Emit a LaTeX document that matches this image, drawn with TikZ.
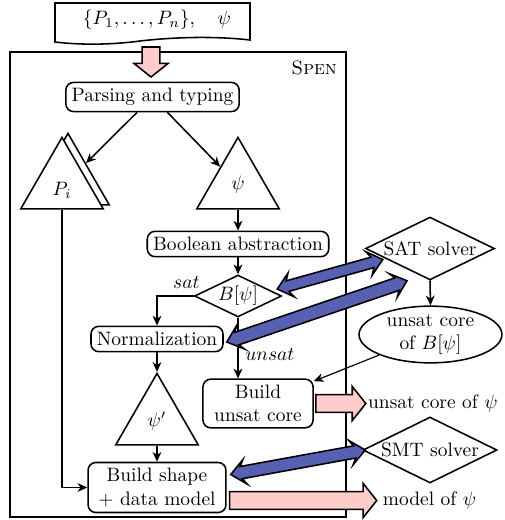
\documentclass[tikz,border=0pt]{standalone}
\usetikzlibrary{shapes.geometric,calc,arrows.meta}
\definecolor{pinkf}{RGB}{255,204,204}
\definecolor{bluef}{RGB}{88,96,178}
\def\pS{4.6pt}\def\pH{8.8pt}\def\pL{7pt}
\def\bH{6.4pt}\def\bL{7.5pt}\def\bLi{5.5pt}
\newcommand\pinkblock[2]{%
  \filldraw[pinkarrow] ($(#1)!\pS!90:(#2)$) -- ($(#2)!\pL!(#1)!\pS!-90:(#1)$) -- ($(#2)!\pL!(#1)!\pH!-90:(#1)$) -- (#2)
   -- ($(#2)!\pL!(#1)!\pH!90:(#1)$) -- ($(#2)!\pL!(#1)!\pS!90:(#1)$) -- ($(#1)!\pS!-90:(#2)$) -- cycle;}
\newcommand\blueblock[3]{%
  \filldraw[bluearrow] (#1) -- ($(#1)!\bL!(#2)!\bH!90:(#2)$) -- ($(#1)!\bLi!(#2)!#3!90:(#2)$)
   -- ($(#2)!\bLi!(#1)!#3!-90:(#1)$) -- ($(#2)!\bL!(#1)!\bH!-90:(#1)$) -- (#2)
   -- ($(#2)!\bL!(#1)!\bH!90:(#1)$) -- ($(#2)!\bLi!(#1)!#3!90:(#1)$)
   -- ($(#1)!\bLi!(#2)!#3!-90:(#2)$) -- ($(#1)!\bL!(#2)!\bH!-90:(#2)$) -- cycle;}
\tikzset{
  box/.style={draw, thick, rounded corners=4pt, inner sep=3pt, align=center},
  tri/.style={draw, thick, regular polygon, regular polygon sides=3, minimum size=49pt, inner sep=0pt, fill=white},
  dia/.style={draw, thick, diamond, aspect=2, inner sep=0pt},
  arr/.style={thick, -{Stealth[length=5pt,width=4.5pt,inset=1.5pt]}},
  pinkarrow/.style={draw, thick, fill=pinkf, line join=miter},
  bluearrow/.style={draw, thick, fill=bluef, line join=miter},
}
\begin{document}
\begin{tikzpicture}[x=0.515pt,y=-0.515pt]
\useasboundingbox (0,0) rectangle (505,520);
% input document
\draw[thick,fill=white] (55,3) -- (250,3) -- (250,40) .. controls (215,36) and (175,37) .. (140,41) .. controls (110,45) and (80,45) .. (55,42) -- cycle;
\node (input) at (157,20) {$\{P_1,\ldots,P_n\},\quad\psi$};
% Spen frame
\node[draw,thick,minimum width=173pt,minimum height=239.5pt,inner sep=0pt] (spen) at (178,284.5) {};
\node[anchor=north east] (spenlbl) at ($(spen.north east)+(-3,3)$) {\textsc{Spen}};
% nodes
\node[box] (parse) at (152.5,97) {Parsing and typing};
\node[tri] (pis) at (68,181) {};
\node[tri] (pi) at (62,185) {};
\node (pilbl) at (62,190) {$P_i$};
\node[tri] (psi) at (238,185) {$\psi$};
\node[box] (bool) at (238,244) {Boolean abstraction};
\node[dia, minimum width=44.8pt, minimum height=21.6pt] (bpsi) at (238,296) {$B[\psi]$};
\node[box] (norm) at (157,339) {Normalization};
\node[box, minimum width=56.7pt] (core) at (258,403.5) {Build\\unsat core};
\node[tri] (psip) at (157,421) {$\psi'$};
\node[box, minimum width=71pt] (shape) at (157,487.5) {Build shape\\+ data model};
\node[dia, minimum width=66.4pt, minimum height=32.4pt] (sat) at (430,248.5) {SAT solver};
\node[draw,thick,ellipse,minimum width=73.6pt,minimum height=28.3pt,inner sep=0pt,align=center] (ucore) at (430.5,334.5) {unsat core\\of $B[\psi]$};
\node[dia, minimum width=69pt, minimum height=34pt] (smt) at (430,450) {SMT solver};
% connectors
\draw[arr] (parse) -- (pis);
\draw[arr] (parse) -- (psi);
\draw[arr] (psi.side 2) -- (bool);
\draw[arr] (bool) -- (bpsi);
\draw[arr] (bpsi.west) -| (norm.north) node[pos=0.1, above] {$sat$};
\draw[arr] (bpsi.south) -- (bpsi.south |- core.north) node[pos=0.6, right] {$unsat$};
\draw[arr] (norm.south) -- (psip.corner 1);
\draw[arr] (psip.side 2) -- (shape.north);
\draw[arr] (pi.side 2) |- (shape.west);
\draw[arr] (sat.south) -- (ucore.north);
\draw[arr, semithick] (ucore) -- (core);
% block arrows
\coordinate (dtop) at (151,47);
\coordinate (dtip) at (151,77);
\pinkblock{dtop}{dtip}
\coordinate (c1) at ($(core.east)+(2,0)$);
\coordinate (c2) at ($(core.east)+(52,0)$);
\pinkblock{c1}{c2}
\node[anchor=west, inner sep=1pt] (coreout) at (c2) {unsat core of $\psi$};
\coordinate (m1) at ($(shape.east)+(3,13)$);
\coordinate (m2) at ($(shape.east)+(150,13)$);
\pinkblock{m1}{m2}
\node[anchor=west, inner sep=3pt] (modelout) at (m2) {model of $\psi$};
\coordinate (a1) at ($(bpsi.east)+(-5,-7)$);
\coordinate (a2) at ($(sat.west)+(18,11)$);
\blueblock{a1}{a2}{2.8pt}
\coordinate (b1) at ($(norm.east)+(3,3)$);
\coordinate (b2) at ($(sat.south)+(-23,0)$);
\blueblock{b1}{b2}{3.4pt}
\coordinate (s1) at ($(shape.east)+(4,-13)$);
\coordinate (s2) at ($(smt.west)+(3,0)$);
\blueblock{s1}{s2}{3.2pt}
\end{tikzpicture}
\end{document}
